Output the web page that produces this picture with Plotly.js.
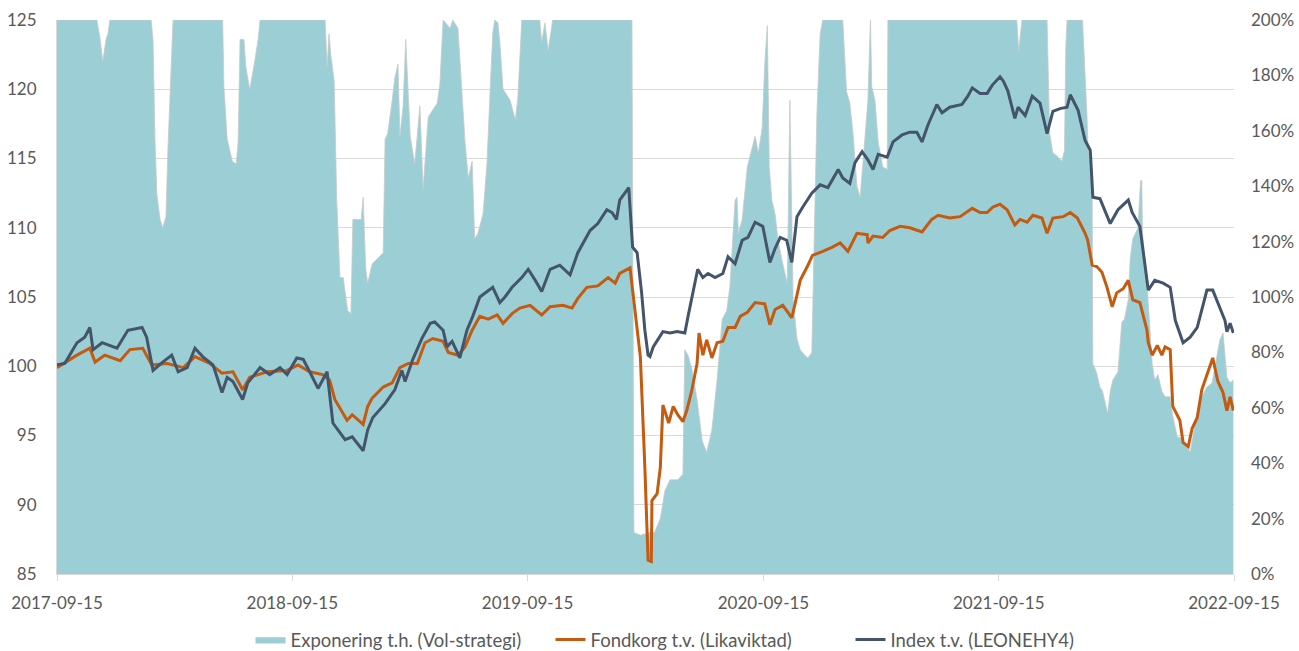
<!DOCTYPE html>
<html>
<head>
<meta charset="utf-8">
<script src="https://cdn.plot.ly/plotly-3.0.1.min.js"></script>
<style>
html,body{margin:0;padding:0;background:#fff;}
#chart{width:1299px;height:651px;}
</style>
</head>
<body>
<div id="chart"></div>
<script>
// ---- Series names ----
const seriesNames = ["Exponering t.h. (Vol-strategi)", "Fondkorg t.v. (Likaviktad)", "Index t.v. (LEONEHY4)"];

// ---- Exposure (right axis, %) ----
const expDates = ["2017-09-15","2017-11-16","2017-11-21","2017-11-25","2017-11-30","2017-12-03","2017-12-06",
"2018-02-08","2018-02-11","2018-02-14","2018-02-17","2018-02-22","2018-02-26","2018-03-03","2018-03-06","2018-03-12","2018-03-14",
"2018-05-30","2018-06-01","2018-06-06","2018-06-14","2018-06-20","2018-06-23","2018-06-26","2018-07-02","2018-07-05","2018-07-11","2018-07-18","2018-07-24","2018-07-27",
"2018-11-05","2018-11-08","2018-11-11","2018-11-14","2018-11-19","2018-11-23","2018-11-28","2018-12-03","2018-12-06","2018-12-10","2018-12-15","2018-12-18","2018-12-23","2018-12-31",
"2019-01-03","2019-01-07","2019-01-10","2019-01-17","2019-01-26","2019-02-03","2019-02-06","2019-02-10","2019-02-17","2019-02-21","2019-02-26","2019-03-01","2019-03-06","2019-03-10","2019-03-17","2019-03-24",
"2019-04-01","2019-04-06","2019-04-14","2019-04-28","2019-05-02","2019-05-07","2019-05-18","2019-05-22","2019-05-30","2019-06-05","2019-06-10","2019-06-15","2019-06-21","2019-06-25","2019-06-30",
"2019-07-08","2019-07-14","2019-07-19","2019-07-23","2019-07-26","2019-07-31","2019-08-03","2019-08-08","2019-08-19","2019-08-27","2019-08-31","2019-09-06",
"2019-10-04","2019-10-07","2019-10-12","2019-10-17","2019-10-24","2020-02-24","2020-02-27","2020-03-08","2020-03-23","2020-03-30","2020-04-08","2020-04-15","2020-04-23",
"2020-05-05","2020-05-13","2020-05-16","2020-05-21","2020-05-27","2020-06-04","2020-06-12","2020-06-19","2020-06-27","2020-07-05","2020-07-13","2020-07-20","2020-07-25",
"2020-08-02","2020-08-05","2020-08-07","2020-08-13","2020-08-21","2020-08-28","2020-09-02","2020-09-07","2020-09-13","2020-09-17","2020-09-21","2020-09-24","2020-09-28",
"2020-10-03","2020-10-08","2020-10-14","2020-10-18","2020-10-22","2020-10-26","2020-10-29","2020-10-31","2020-11-06","2020-11-11","2020-11-18","2020-11-23","2020-11-29",
"2020-12-04","2020-12-07","2020-12-12","2020-12-16","2021-01-16","2021-01-22","2021-01-27","2021-02-01","2021-02-07","2021-02-12","2021-02-20","2021-02-24","2021-02-28",
"2021-03-02","2021-03-07","2021-03-12","2021-03-19","2021-03-26","2021-03-27","2021-10-13","2021-10-16","2021-10-21","2021-11-29","2021-12-01","2021-12-03","2021-12-08",
"2021-12-14","2021-12-22","2021-12-26","2021-12-28","2021-12-30","2022-01-23","2022-01-27","2022-01-30","2022-01-31","2022-02-04","2022-02-07","2022-02-08","2022-02-14",
"2022-02-19","2022-02-23","2022-02-26","2022-03-03","2022-03-07","2022-03-11","2022-03-19","2022-03-25","2022-03-29","2022-04-04","2022-04-07","2022-04-11","2022-04-19",
"2022-04-23","2022-04-25","2022-04-26","2022-05-03","2022-05-08","2022-05-11","2022-05-15","2022-05-20","2022-05-26","2022-05-31","2022-06-08","2022-06-12","2022-06-19",
"2022-06-26","2022-07-04","2022-07-09","2022-07-17","2022-07-21","2022-07-27","2022-08-04","2022-08-12","2022-08-17","2022-08-24","2022-08-29","2022-09-04","2022-09-09","2022-09-14"];
const expValues = [200,200,193,185,193,195,200,
200,193,157,137,128,125,129,153,185,200,
200,176,157,149,148,156,193,193,183,175,184,193,200,
200,183,195,187,178,135,107,107,102.5,95,94,128,128,128,
136,110,105,112,114,116,157,159,171,179,184,158,169,193,158,148,
169,139,165,170,177,200,197,200,197,175,156,143,149,121,123,
130,148,175,195,200,199,192,175,171,164,172,200,
200,192,199,189,200,200,15,14,15,15,20,30,34,
34,36,81,79,74,63,48,44,52,70,92,95,104,
135,136,123,128,147,153,158,152,161,184,198,147,135,
130,120,113,109,105,171,135,99,85,81,79,78,80,
140,167,195,200,200,174,170,159,140,136,159,171,200,
176,171,156,147,146,200,200,189,200,200,175,159,152,
151,149,153,190,200,200,182,165,157,145,136,76,72.6,
67.5,66,63,58,66,70,73,91,92,99,114,121,125,
142,142,123,105,88,76,70,72,66,64,64,57,49.5,
49,46,44,54.5,60,64,67.5,69,75,84.5,87,71,69,70];

// ---- Fondkorg (left axis) ----
const fondDates = ["2017-09-15","2017-10-16","2017-11-05","2017-11-13","2017-11-28","2017-12-22","2018-01-06","2018-01-26","2018-02-09","2018-03-05",
"2018-03-30","2018-04-17","2018-05-10","2018-05-29","2018-06-15","2018-06-30","2018-07-11","2018-08-07","2018-09-07","2018-09-24",
"2018-10-12","2018-11-01","2018-11-12","2018-11-20","2018-12-09","2018-12-17","2019-01-03","2019-01-10","2019-01-17","2019-02-03",
"2019-02-17","2019-03-01","2019-03-14","2019-03-28","2019-04-09","2019-04-21","2019-05-07","2019-05-15","2019-05-30","2019-06-10",
"2019-06-21","2019-07-03","2019-07-16","2019-07-30","2019-08-08","2019-08-22","2019-09-03","2019-09-19","2019-10-07","2019-10-20",
"2019-11-09","2019-11-23","2019-12-02","2019-12-16","2020-01-02","2020-01-18","2020-01-29","2020-02-05","2020-02-21","2020-02-28",
"2020-03-08","2020-03-15","2020-03-20","2020-03-25","2020-03-26","2020-04-03","2020-04-08","2020-04-12","2020-04-21","2020-04-28",
"2020-05-05","2020-05-13","2020-05-19","2020-05-27","2020-06-04","2020-06-07","2020-06-13","2020-06-19","2020-06-27","2020-07-05",
"2020-07-14","2020-07-22","2020-08-02","2020-08-10","2020-08-21","2020-09-02","2020-09-17","2020-09-25","2020-10-03","2020-10-15",
"2020-10-29","2020-11-03","2020-11-11","2020-11-22","2020-11-30","2020-12-16","2020-12-31","2021-01-12","2021-01-24","2021-02-07",
"2021-02-23","2021-02-24","2021-03-04","2021-03-19","2021-03-30","2021-04-15","2021-04-30","2021-05-19","2021-06-03","2021-06-13",
"2021-07-01","2021-07-17","2021-08-05","2021-08-17","2021-08-28","2021-09-06","2021-09-17","2021-09-28","2021-10-10","2021-10-18",
"2021-10-29","2021-11-07","2021-11-21","2021-11-29","2021-12-08","2021-12-24","2022-01-04","2022-01-15","2022-01-27","2022-01-31",
"2022-02-07","2022-02-14","2022-02-22","2022-03-02","2022-03-10","2022-03-17","2022-03-27","2022-04-04","2022-04-11","2022-04-22",
"2022-05-03","2022-05-05","2022-05-11","2022-05-19","2022-05-26","2022-05-31","2022-06-08","2022-06-12","2022-06-23","2022-06-28",
"2022-07-06","2022-07-12","2022-07-20","2022-07-27","2022-08-04","2022-08-13","2022-08-21","2022-08-29","2022-09-04","2022-09-09","2022-09-14"];
const fondValues = [99.9,100.8,101.3,100.3,100.8,100.4,101.2,101.3,100.1,100.2,
99.9,100.7,100.2,99.5,99.6,98.3,99.2,99.6,99.7,100.1,
99.6,99.4,99.0,97.6,96.1,96.5,95.8,97.1,97.7,98.5,
98.8,99.9,100.2,100.2,101.7,102.0,101.8,101.0,100.8,101.4,
102.6,103.6,103.4,103.7,103.1,103.8,104.2,104.4,103.7,104.3,
104.4,104.2,104.9,105.7,105.8,106.4,106.0,106.7,107.1,104.3,
100.7,92.7,86.0,85.9,90.3,90.8,92.7,97.2,95.9,97.1,
96.5,96.0,96.8,98.3,100.2,102.4,100.8,101.9,100.6,101.7,
101.8,102.8,102.8,103.6,103.9,104.6,104.5,103.0,104.1,104.4,
103.5,104.5,106.2,107.2,108.0,108.3,108.6,108.9,108.3,109.6,
109.5,108.9,109.4,109.3,109.8,110.1,110.0,109.7,110.6,110.9,
110.7,110.8,111.4,111.1,111.1,111.5,111.7,111.3,110.2,110.6,
110.4,110.9,110.7,109.6,110.7,110.8,111.1,110.7,109.6,109.1,
107.3,107.2,106.8,105.7,104.3,105.3,105.6,106.2,104.8,104.6,
102.6,101.7,100.8,101.5,100.8,101.4,101.2,97.1,96.1,94.5,
94.2,95.5,96.3,98.3,99.4,100.6,98.9,98.1,96.8,97.8,96.8];

// ---- Index LEONEHY4 (left axis) ----
const indexDates = ["2017-09-15","2017-09-27","2017-10-16","2017-10-28","2017-11-05","2017-11-10","2017-11-24","2017-12-17","2018-01-03","2018-01-25",
"2018-02-01","2018-02-11","2018-02-26","2018-03-12","2018-03-22","2018-04-05","2018-04-17","2018-04-29","2018-05-15","2018-05-29",
"2018-06-06","2018-06-15","2018-06-30","2018-07-08","2018-07-27","2018-08-11","2018-08-27","2018-09-07","2018-09-22","2018-10-02",
"2018-10-12","2018-10-25","2018-11-08","2018-11-17","2018-12-06","2018-12-17","2019-01-03","2019-01-10","2019-01-18","2019-02-06",
"2019-02-21","2019-03-04","2019-03-09","2019-03-21","2019-04-04","2019-04-17","2019-04-24","2019-05-07","2019-05-13","2019-05-21",
"2019-06-02","2019-06-13","2019-06-22","2019-07-03","2019-07-23","2019-08-03","2019-08-11","2019-08-22","2019-09-06","2019-09-16",
"2019-09-27","2019-10-07","2019-10-20","2019-11-04","2019-11-20","2019-12-02","2019-12-21","2020-01-02","2020-01-16","2020-01-24",
"2020-01-31","2020-02-05","2020-02-19","2020-02-25","2020-03-03","2020-03-10","2020-03-15","2020-03-20","2020-03-23","2020-03-28",
"2020-04-12","2020-04-23","2020-05-04","2020-05-16","2020-05-21","2020-05-27","2020-06-05","2020-06-13","2020-06-21","2020-07-02",
"2020-07-14","2020-07-22","2020-08-02","2020-08-13","2020-08-22","2020-09-02","2020-09-14","2020-09-25","2020-10-03","2020-10-11",
"2020-10-21","2020-10-29","2020-11-06","2020-11-15","2020-11-29","2020-12-12","2020-12-24","2021-01-09","2021-01-16","2021-01-27",
"2021-02-04","2021-02-15","2021-02-24","2021-03-04","2021-03-12","2021-03-26","2021-04-04","2021-04-18","2021-04-30","2021-05-11",
"2021-05-19","2021-05-28","2021-06-11","2021-06-19","2021-07-01","2021-07-20","2021-07-29","2021-08-05","2021-08-17","2021-08-28",
"2021-09-05","2021-09-17","2021-09-22","2021-09-29","2021-10-10","2021-10-15","2021-10-26","2021-11-06","2021-11-18","2021-11-29",
"2021-12-08","2021-12-19","2021-12-30","2022-01-04","2022-01-16","2022-01-27","2022-02-04","2022-02-08","2022-02-19","2022-03-07",
"2022-03-19","2022-04-04","2022-04-10","2022-04-22","2022-05-05","2022-05-15","2022-05-28","2022-06-08","2022-06-16","2022-06-28",
"2022-07-09","2022-07-20","2022-07-27","2022-08-04","2022-08-13","2022-08-21","2022-09-01","2022-09-04","2022-09-09","2022-09-14"];
const indexValues = [100.1,100.2,101.7,102.1,102.8,101.2,101.7,101.3,102.6,102.8,
102.1,99.7,100.3,100.8,99.6,99.9,101.3,100.7,100.1,98.1,
99.2,98.9,97.6,98.8,99.9,99.4,99.9,99.4,100.6,100.5,
99.6,98.4,99.6,95.9,94.7,94.9,93.9,95.4,96.3,97.3,
98.3,99.7,98.9,100.5,102.0,103.1,103.2,102.6,101.4,101.8,
100.6,102.6,103.6,105.0,105.7,104.6,105.0,105.7,106.4,107.0,
106.2,105.4,107.0,107.3,106.6,108.2,109.8,110.3,111.3,111.1,
110.6,112.0,112.9,108.6,108.2,105.3,102.6,100.8,100.7,101.4,
102.5,102.4,102.5,102.4,103.6,104.9,107.0,106.4,106.7,106.4,
106.7,107.9,107.4,109.1,109.3,110.4,110.1,107.5,108.5,109.3,
109.1,107.5,110.8,111.5,112.5,113.1,112.9,114.2,113.6,113.2,
114.7,115.5,114.9,114.2,115.3,115.1,116.2,116.7,116.9,116.9,
116.2,117.4,118.9,118.3,118.7,118.9,119.5,120.1,119.7,119.7,
120.3,120.9,120.6,119.9,117.9,118.7,118.1,119.5,119.0,116.8,
118.4,118.6,118.7,119.6,118.5,116.3,115.6,112.2,112.1,110.3,
111.3,112.0,111.1,110.1,105.5,106.2,106.0,105.7,103.3,101.7,
102.1,102.8,104.0,105.5,105.5,104.6,103.3,102.5,103.1,102.4];

// ---- Axes ----
const xTickDates = ["2017-09-15","2018-09-15","2019-09-15","2020-09-15","2021-09-15","2022-09-15"];
const leftRange = [85, 125];
const rightRange = [0, 200];

const colors = {exp: "#9BCFD5", fond: "#C55A11", index: "#44546A"};
const tickFont = {family: "Lato, 'Open Sans', sans-serif", size: 17, color: "#595959"};

const traces = [
  {x: expDates, y: expValues, name: seriesNames[0], type: "scatter", mode: "lines",
   fill: "tozeroy", fillcolor: colors.exp, line: {color: "#C9C9C9", width: 0.8},
   yaxis: "y", cliponaxis: true},
  {x: fondDates, y: fondValues, name: seriesNames[1], type: "scatter", mode: "lines",
   line: {color: colors.fond, width: 3}, yaxis: "y2"},
  {x: indexDates, y: indexValues, name: seriesNames[2], type: "scatter", mode: "lines",
   line: {color: colors.index, width: 3}, yaxis: "y2"}
];

const layout = {
  width: 1299, height: 651,
  margin: {l: 57, r: 65, t: 20, b: 77, autoexpand: false},
  paper_bgcolor: "#ffffff", plot_bgcolor: "rgba(0,0,0,0)",
  showlegend: true,
  legend: {orientation: "h", x: 0.1644, xanchor: "left", y: -0.119, yanchor: "middle",
           entrywidth: 255, entrywidthmode: "pixels",
           font: {family: "Lato, 'Open Sans', sans-serif", size: 18.5, color: "#595959"}},
  xaxis: {type: "date", range: ["2017-09-15", "2022-09-15"],
          tickvals: xTickDates, ticktext: xTickDates,
          ticks: "outside", ticklen: 6, tickcolor: "#D9D9D9",
          showline: true, linecolor: "#D9D9D9", linewidth: 1,
          showgrid: false, zeroline: false, tickfont: tickFont, ticklabelstandoff: 8},
  yaxis: {range: rightRange, side: "right", dtick: 20, ticksuffix: "%",
          showgrid: false, zeroline: false, showline: false, ticks: "",
          tickfont: tickFont, ticklabelstandoff: 16},
  yaxis2: {range: leftRange, side: "left", overlaying: "y", dtick: 5,
           showgrid: true, gridcolor: "#D9D9D9", gridwidth: 1,
           zeroline: false, showline: true, linecolor: "#D9D9D9", ticks: "",
           tickfont: tickFont, ticklabelstandoff: 16}
};

Plotly.newPlot("chart", traces, layout, {displayModeBar: false, staticPlot: true});
</script>
</body>
</html>
